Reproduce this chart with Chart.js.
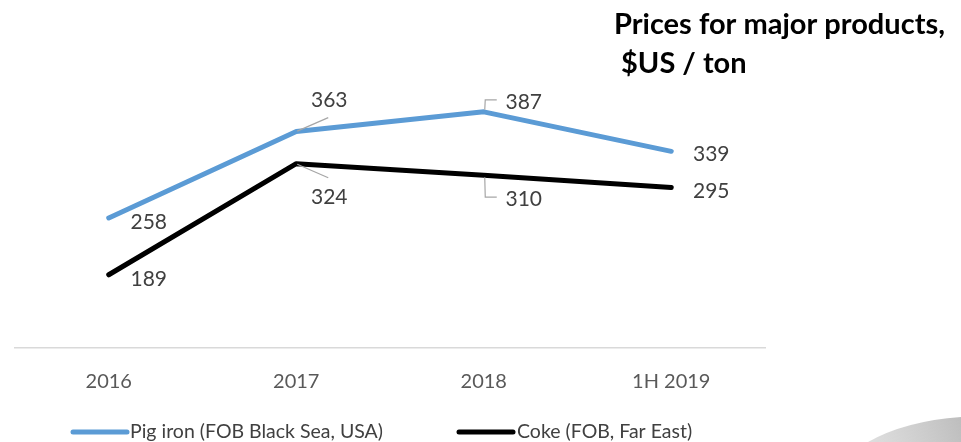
<!DOCTYPE html>
<html>
<head>
<meta charset="utf-8">
<script src="https://cdn.jsdelivr.net/npm/chart.js@4/dist/chart.umd.min.js"></script>
<style>
  html, body { margin: 0; padding: 0; background: #ffffff; }
  #wrap { width: 961px; height: 442px; position: relative; }
</style>
</head>
<body>
<div id="wrap"><canvas id="c" width="961" height="442"></canvas></div>
<script>
const categories = ['2016', '2017', '2018', '1H 2019'];
const pigIron = [258, 363, 387, 339];
const coke = [189, 324, 310, 295];
const seriesNames = ['Pig iron (FOB Black Sea, USA)', 'Coke (FOB, Far East)'];
const titleLines = ['Prices for major products,', ' $US / ton'];

const FONT = 'Lato, "Open Sans", sans-serif';

// label placement style per series/point: [dx, dy, leader type]
const labelStyle = [
  [[40, 4, null], [33, -31, 'diag'], [40, -10, 'bracket'], [40, 3, null]],
  [[40, 4, null], [33, 34, 'diag'], [40, 24, 'bracket'], [40, 4, null]]
];

const decor = {
  id: 'decor',
  beforeDraw(chart) {
    const ctx = chart.ctx;
    ctx.save();
    const g = ctx.createLinearGradient(870, 442, 961, 410);
    g.addColorStop(0, 'rgba(200,200,200,0.6)');
    g.addColorStop(1, 'rgba(185,185,185,0.95)');
    ctx.fillStyle = g;
    ctx.beginPath();
    ctx.moveTo(868, 442);
    ctx.quadraticCurveTo(905, 421, 961, 417);
    ctx.lineTo(961, 442);
    ctx.closePath();
    ctx.fill();
    ctx.restore();
  },
  afterDatasetsDraw(chart) {
    const ctx = chart.ctx;
    ctx.save();
    chart.data.datasets.forEach((ds, di) => {
      const meta = chart.getDatasetMeta(di);
      meta.data.forEach((pt, i) => {
        const st = labelStyle[di][i];
        const lx = pt.x + st[0], ly = pt.y + st[1];
        if (st[2] === 'diag') {
          ctx.strokeStyle = '#a6a6a6';
          ctx.lineWidth = 1.2;
          ctx.beginPath();
          const sgn = st[1] < 0 ? -1 : 1;
          ctx.moveTo(pt.x + 1, pt.y + sgn * 0.5);
          ctx.lineTo(pt.x + 32, pt.y + sgn * 14);
          ctx.stroke();
        } else if (st[2] === 'bracket') {
          ctx.strokeStyle = '#a6a6a6';
          ctx.lineWidth = 1.2;
          ctx.beginPath();
          const sgn = st[1] < 0 ? -1 : 1;
          const by = pt.y + (st[1] < 0 ? -12 : 22);
          ctx.moveTo(pt.x + 1, pt.y + sgn * 2);
          ctx.lineTo(pt.x + 1.5, by);
          ctx.lineTo(pt.x + 13, by);
          ctx.stroke();
        }
        ctx.fillStyle = '#404040';
        ctx.font = '21px ' + FONT;
        ctx.textAlign = 'center';
        ctx.textBaseline = 'middle';
        ctx.fillText(String(ds.data[i]), lx, ly);
      });
    });
    ctx.restore();
  },
  afterDraw(chart) {
    const ctx = chart.ctx;
    ctx.save();
    ctx.fillStyle = '#000000';
    ctx.font = 'bold 29px ' + FONT;
    ctx.textAlign = 'left';
    ctx.textBaseline = 'alphabetic';
    ctx.fillText(titleLines[0], 614, 34);
    ctx.fillText(titleLines[1], 614, 73);
    const items = [[73, 127, 130], [459, 513, 517]];
    chart.data.datasets.forEach((ds, di) => {
      const it = items[di];
      ctx.strokeStyle = ds.borderColor;
      ctx.lineWidth = 5;
      ctx.lineCap = 'round';
      ctx.beginPath();
      ctx.moveTo(it[0], 432);
      ctx.lineTo(it[1], 432);
      ctx.stroke();
      ctx.fillStyle = '#404040';
      ctx.font = '19.5px ' + FONT;
      ctx.textAlign = 'left';
      ctx.textBaseline = 'middle';
      ctx.fillText(ds.label, it[2], 432);
    });
    ctx.restore();
  }
};

new Chart(document.getElementById('c'), {
  type: 'line',
  data: {
    labels: categories,
    datasets: [
      { label: seriesNames[0], data: pigIron, borderColor: '#5b9bd5', backgroundColor: '#5b9bd5',
        borderWidth: 5, pointRadius: 0, tension: 0, borderCapStyle: 'round', borderJoinStyle: 'round' },
      { label: seriesNames[1], data: coke, borderColor: '#000000', backgroundColor: '#000000',
        borderWidth: 5, pointRadius: 0, tension: 0, borderCapStyle: 'round', borderJoinStyle: 'round' }
    ]
  },
  options: {
    responsive: false,
    animation: false,
    devicePixelRatio: 1,
    layout: { padding: { left: 15, right: 196, top: 60, bottom: 26 } },
    plugins: { legend: { display: false }, title: { display: false }, tooltip: { enabled: false } },
    scales: {
      x: {
        offset: true,
        grid: { display: false, drawTicks: false },
        border: { display: true, color: '#d9d9d9', width: 1.5 },
        ticks: { color: '#595959', font: { family: FONT, size: 20 }, padding: 22 }
      },
      y: { display: false, min: 100, max: 450 }
    }
  },
  plugins: [decor]
});
</script>
</body>
</html>
